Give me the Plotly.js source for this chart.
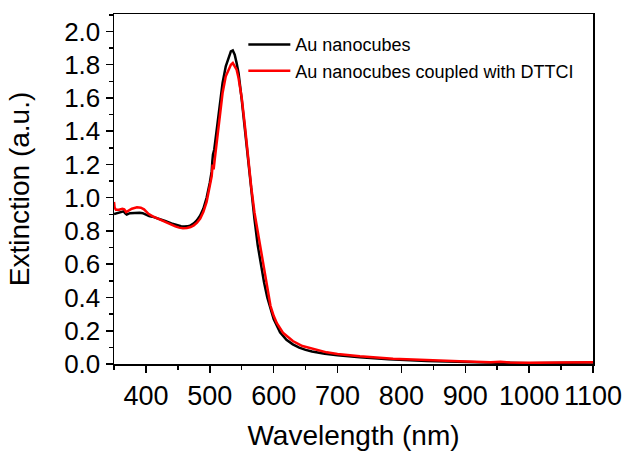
<!DOCTYPE html>
<html>
<head>
<meta charset="utf-8">
<script src="https://cdn.plot.ly/plotly-3.0.1.min.js"></script>
<style>html,body{margin:0;padding:0;background:#fff;}#chart{width:627px;height:451px;}</style>
</head>
<body>
<div id="chart"></div>
<script>
// Au nanocubes (black)
var wlBlack = [350,355,360,365,368,370,375,380,390,395,400,405,410,420,430,440,450,455,460,465,470,475,480,485,490,495,500,503,504,505,507,510,515,520,525,530,533,536,539,542,545,550,555,560,565,570,575,580,585,590,595,600,610,620,630,640,650,660,680,700,735,780,840,890,950,1000,1050,1100];
var extBlack = [0.902,0.906,0.912,0.918,0.905,0.899,0.907,0.909,0.909,0.907,0.897,0.890,0.886,0.875,0.860,0.845,0.833,0.829,0.827,0.828,0.834,0.846,0.865,0.893,0.935,1.00,1.09,1.16,1.22,1.26,1.29,1.39,1.55,1.69,1.79,1.85,1.88,1.886,1.86,1.81,1.75,1.59,1.41,1.21,1.03,0.87,0.715,0.60,0.49,0.40,0.33,0.27,0.19,0.145,0.118,0.098,0.085,0.075,0.062,0.052,0.040,0.028,0.018,0.012,0.008,0.005,0.007,0.009];

// Au nanocubes coupled with DTTCI (red)
var wlRed = [350,351,353,358,363,366,369,372,378,386,392,397,400,404,410,415,430,440,446,452,458,464,470,475,480,485,490,495,500,503,504.5,506,508,512,516,520,525,530,533,536,539,542,545,550,555,560,565,570,575,580,585,590,595,600,605,615,630,645,657,683,700,735,787,839,891,940,955,970,1000,1050,1100];
var extRed = [0.975,0.94,0.928,0.928,0.934,0.930,0.914,0.922,0.934,0.942,0.940,0.930,0.918,0.903,0.890,0.881,0.858,0.840,0.828,0.820,0.816,0.818,0.824,0.834,0.850,0.875,0.915,0.975,1.06,1.13,1.20,1.17,1.24,1.38,1.52,1.63,1.73,1.78,1.80,1.81,1.79,1.77,1.72,1.60,1.43,1.23,1.06,0.91,0.795,0.69,0.56,0.445,0.35,0.29,0.245,0.186,0.138,0.108,0.096,0.070,0.060,0.046,0.032,0.022,0.016,0.011,0.013,0.009,0.007,0.009,0.011];

var seriesNames = ['Au nanocubes', 'Au nanocubes coupled with DTTCI'];
var xTitle = 'Wavelength (nm)';
var yTitle = 'Extinction (a.u.)';

var FONT = 'Liberation Sans, Arial, Helvetica, sans-serif';

var traces = [
  {x: wlBlack, y: extBlack, type: 'scatter', mode: 'lines', name: seriesNames[0],
   line: {color: '#000000', width: 2.5}},
  {x: wlRed, y: extRed, type: 'scatter', mode: 'lines', name: seriesNames[1],
   line: {color: '#ff0000', width: 2.5}}
];

var layout = {
  width: 627, height: 451,
  margin: {l: 114, r: 34, t: 14, b: 87, pad: 0},
  paper_bgcolor: '#ffffff', plot_bgcolor: '#ffffff',
  font: {family: FONT, color: '#000000'},
  showlegend: true,
  legend: {x: 0.27, y: 0.965, xanchor: 'left', yanchor: 'top', bgcolor: 'rgba(0,0,0,0)',
           itemwidth: 42, font: {family: FONT, size: 18, color: '#000'}},
  xaxis: {
    range: [350, 1100], tick0: 400, dtick: 100, showgrid: false, zeroline: false,
    showline: true, linecolor: '#000', linewidth: 1.5, mirror: true,
    ticks: 'outside', ticklen: 7, tickwidth: 1.5, tickcolor: '#000',
    minor: {tick0: 350, dtick: 50, ticks: 'outside', ticklen: 4, tickwidth: 1.5, tickcolor: '#000', showgrid: false},
    tickfont: {family: FONT, size: 27, color: '#000'},
    title: {text: xTitle, font: {family: FONT, size: 28, color: '#000'}, standoff: 16}
  },
  yaxis: {
    range: [0, 2.105], tick0: 0, dtick: 0.2, tickformat: '.1f', showgrid: false, zeroline: false,
    showline: true, linecolor: '#000', linewidth: 1.5, mirror: true,
    ticks: 'outside', ticklen: 7, tickwidth: 1.5, tickcolor: '#000',
    minor: {tick0: 0, dtick: 0.1, ticks: 'outside', ticklen: 4, tickwidth: 1.5, tickcolor: '#000', showgrid: false},
    tickfont: {family: FONT, size: 26, color: '#000'},
    title: {text: yTitle, font: {family: FONT, size: 28, color: '#000'}, standoff: 26}
  },
  xaxis2: {
    overlaying: 'x', side: 'top', anchor: 'y', matches: 'x', range: [350, 1100], tick0: 400, dtick: 100,
    showgrid: false, zeroline: false, showticklabels: false,
    ticks: 'inside', ticklen: 3, tickwidth: 1.5, tickcolor: '#000',
    minor: {tick0: 350, dtick: 50, ticks: 'inside', ticklen: 3, tickwidth: 1.5, tickcolor: '#000', showgrid: false}
  },
  yaxis2: {
    overlaying: 'y', side: 'right', anchor: 'x', range: [0, 2.105], tick0: 0, dtick: 0.2,
    showgrid: false, zeroline: false, showticklabels: false,
    ticks: 'inside', ticklen: 3, tickwidth: 1.5, tickcolor: '#000',
    minor: {tick0: 0, dtick: 0.1, ticks: 'inside', ticklen: 3, tickwidth: 1.5, tickcolor: '#000', showgrid: false}
  }
};

Plotly.newPlot('chart', traces, layout, {staticPlot: true, displayModeBar: false});
</script>
</body>
</html>
